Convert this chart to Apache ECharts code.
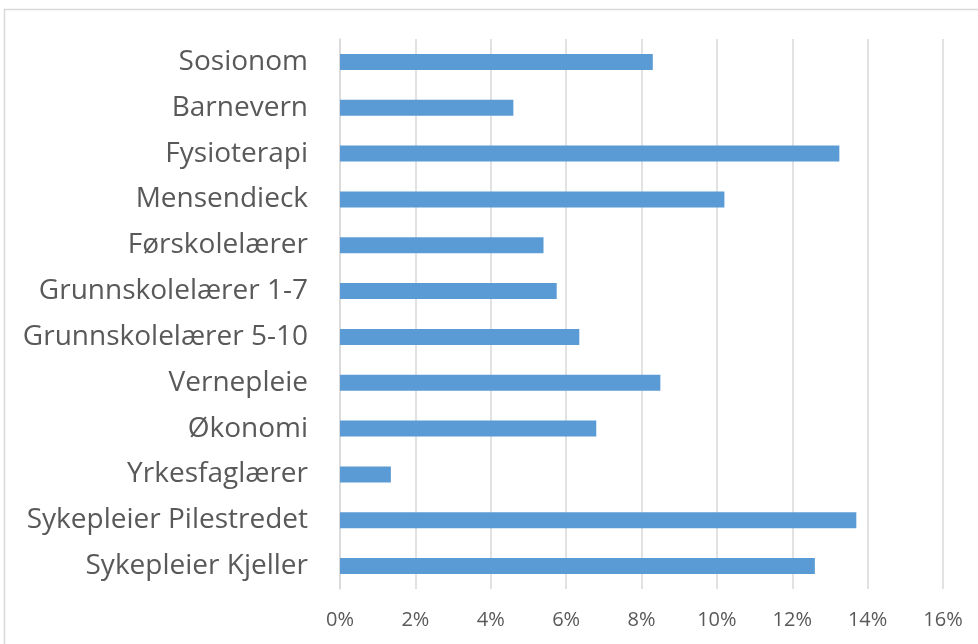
<!DOCTYPE html>
<html>
<head>
<meta charset="utf-8">
<script src="https://cdn.jsdelivr.net/npm/echarts@6/dist/echarts.min.js"></script>
<style>
  html, body { margin: 0; padding: 0; background: #fff; }
  #chart { width: 978px; height: 644px; }
</style>
</head>
<body>
<div id="chart"></div>
<script>
// kategorier, ovenfra og ned
const categories = [
  'Sosionom', 'Barnevern', 'Fysioterapi', 'Mensendieck', 'Førskolelærer',
  'Grunnskolelærer 1-7', 'Grunnskolelærer 5-10', 'Vernepleie', 'Økonomi',
  'Yrkesfaglærer', 'Sykepleier Pilestredet', 'Sykepleier Kjeller'
]
// andel i prosent
const values = [8.3, 4.6, 13.25, 10.2, 5.4, 5.75, 6.35, 8.5, 6.8, 1.35, 13.7, 12.6]
const xTicks = [0, 2, 4, 6, 8, 10, 12, 14, 16]

const chart = echarts.init(document.getElementById('chart'))
const font = '"Open Sans", sans-serif'

const option = {
  animation: false,
  textStyle: { fontFamily: font },
  graphic: [{
    type: 'rect',
    shape: { x: 4.5, y: 9.5, width: 1000, height: 700 },
    style: { fill: 'none', stroke: '#d9d9d9', lineWidth: 1.5 }
  }],
  grid: { left: 340, right: 35, top: 39, bottom: 55, containLabel: false },
  xAxis: {
    type: 'value',
    min: xTicks[0],
    max: xTicks[xTicks.length - 1],
    interval: 2,
    axisLine: { show: false },
    axisTick: { show: false },
    splitLine: { lineStyle: { color: '#d9d9d9', width: 1.5 } },
    axisLabel: {
      formatter: v => v + '%',
      color: '#595959',
      fontSize: 20,
      margin: 21,
      fontFamily: font
    }
  },
  yAxis: {
    type: 'category',
    data: categories,
    inverse: true,
    axisLine: { show: true, lineStyle: { color: '#d9d9d9', width: 1.5 } },
    axisTick: { show: false },
    axisLabel: { color: '#595959', fontSize: 28, margin: 32, fontFamily: font }
  },
  series: [{
    type: 'bar',
    data: values,
    barCategoryGap: '65%',
    itemStyle: { color: '#5b9bd5' }
  }]
}

chart.setOption(option)
</script>
</body>
</html>
